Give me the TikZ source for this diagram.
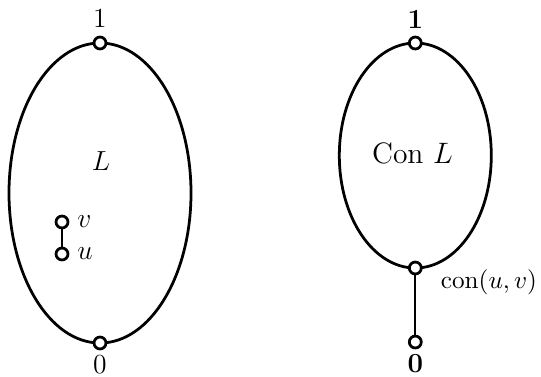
\documentclass[tikz,border=0pt]{standalone}
\usepackage{graphicx}
\begin{document}
\begin{tikzpicture}[x=0.435pt,y=-0.435pt,
  elt/.style={circle,draw,line width=1.2pt,fill=white,inner sep=0pt,minimum size=5.2pt},
  oval/.style={line width=1.2pt},
  edge/.style={line width=0.75pt},
  lbl/.style={inner sep=0pt},
  dig/.style={lbl,font=\fontsize{12}{14}\selectfont},
  big/.style={lbl,font=\fontsize{12}{14}\selectfont}]
\useasboundingbox (0,0) rectangle (541,376);
% left
\draw[oval] (100,193) ellipse [x radius=91, y radius=150];
\node[elt] (t1) at (100,43) {};
\node[elt] (b1) at (100,343) {};
\node[dig] (l1) at (100,18.5) {$1$};
\node[dig] (l0) at (100,365) {$0$};
\node[big] (L) at (101,161) {$L$};
\node[elt] (v) at (62,222) {};
\node[elt] (u) at (62,254) {};
\draw[edge] (v) -- (u);
\node[big,anchor=west] (lv) at (77,222) {$v$};
\node[big,anchor=west] (lu) at (77,254) {$u$};
% right
\draw[oval] (415.3,155.5) ellipse [x radius=76, y radius=112.5];
\node[elt] (t2) at (415.3,43) {};
\node[elt] (c) at (415.3,268) {};
\node[elt] (b2) at (415.3,342) {};
\draw[edge] (c) -- (b2);
\node[dig] (r1) at (415.3,19.5) {$\mathbf{1}$};
\node[dig] (r0) at (415.3,363.5) {$\mathbf{0}$};
\node[lbl,anchor=base] (conL) at (412.5,163.3) {\scalebox{1.07}{\fontsize{12}{14}\selectfont$\mathrm{Con}\ L$}};
\node[lbl,anchor=base west] (lc) at (440.5,288) {\fontsize{10.95}{13}\selectfont$\mathrm{con}(u,v)$};
\end{tikzpicture}
\end{document}
